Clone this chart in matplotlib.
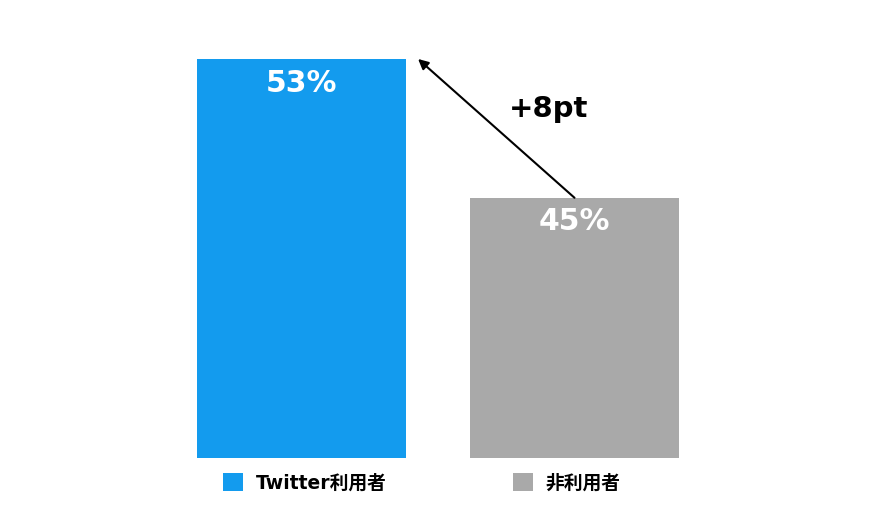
import numpy as np
import matplotlib.pyplot as plt

categories = ["Twitter利用者", "非利用者"]
values = [53, 45]
value_labels = ["53%", "45%"]
diff_label = "+8pt"
base = 30
colors = ["#139bee", "#a9a9a9"]

plt.rcParams['font.family'] = ['DejaVu Sans', 'Noto Sans CJK JP']

fig = plt.figure(figsize=(8.94, 5.32), dpi=100)
ax = fig.add_axes([0, 0, 1, 1])
ax.set_xlim(-1.1044, 2.1703)
ax.set_ylim(25.735, 56.40)
ax.axis("off")

x = np.arange(len(values))
bars = ax.bar(x, np.array(values) - base, bottom=base, width=0.766, color=colors)

for xi, v, lab in zip(x, values, value_labels):
    ax.text(xi, v - 0.55, lab, ha="center", va="top", color="white",
            fontsize=21.5, fontweight="bold")

# arrow from the smaller bar up to the bigger one
ax.annotate("", xy=(0.427, values[0]), xytext=(1, values[1]),
            arrowprops=dict(arrowstyle="-|>", color="black", lw=1.5,
                            mutation_scale=15, shrinkA=0, shrinkB=0))
ax.text(0.905, 49.66, diff_label, ha="center", va="baseline",
        fontsize=21, fontweight="bold")

ax.legend(bars, categories, ncol=2, frameon=False,
          loc="center left", bbox_to_anchor=(223 / 894, 1 - 483 / 532),
          prop=dict(family=['DejaVu Sans', 'Noto Sans CJK JP'], weight="bold", size=13.5),
          handlelength=1.07, handleheight=1.07, handletextpad=0.7,
          columnspacing=6.7, borderpad=0, borderaxespad=0)

fig.savefig("out.png", dpi=100)
